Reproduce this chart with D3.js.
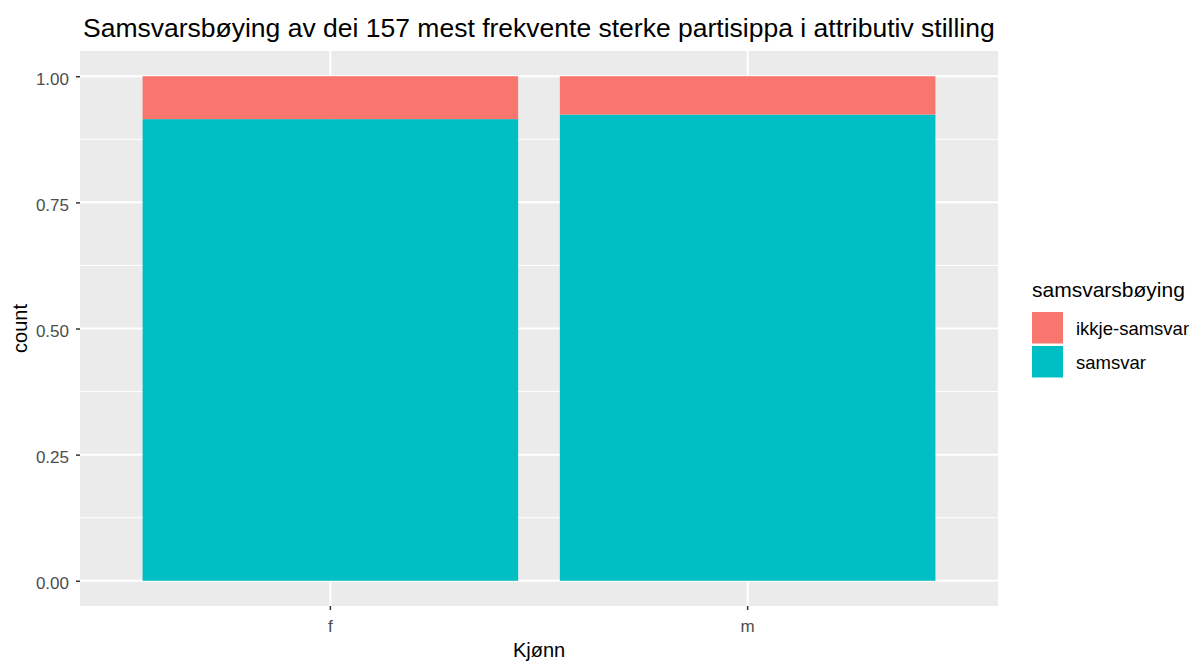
<!DOCTYPE html>
<html>
<head>
<meta charset="utf-8">
<script src="https://cdnjs.cloudflare.com/ajax/libs/d3/7.8.5/d3.min.js"></script>
<style>
  body { margin: 0; background: #fff; }
  text { font-family: "Liberation Sans", Arial, sans-serif; }
</style>
</head>
<body>
<div id="viz"></div>
<script>
// data
const genders = ["f", "m"];
const groups = ["ikkje-samsvar", "samsvar"];
const samsvarShare = [0.915, 0.924];   // share of "samsvar" per gender
const yTicks = [0, 0.25, 0.5, 0.75, 1];
const yMinor = [0.125, 0.375, 0.625, 0.875];
const groupColors = ["#F8766D", "#00BFC4"];

const width = 1194, height = 662;
const panel = {left: 80, right: 998, top: 51, bottom: 606};

let svg = d3.select("#viz")
  .append("svg")
    .attr("width", width)
    .attr("height", height);

// stacked rows: samsvar at bottom, ikkje-samsvar on top
let rows = genders.map((g, i) => ({kjonn: g, "samsvar": samsvarShare[i], "ikkje-samsvar": 1 - samsvarShare[i]}));
let stack = d3.stack().keys(["samsvar", "ikkje-samsvar"])(rows);

let xScale = d3.scaleBand()
  .domain(genders)
  .range([panel.left, panel.right])
  .paddingInner(0.1)
  .paddingOuter(0.15);

let yScale = d3.scaleLinear()
  .domain([-0.05, 1.05])
  .range([panel.bottom, panel.top]);

let colorScale = d3.scaleOrdinal().domain(groups).range(groupColors);

// panel background
svg.append("rect")
  .attr("x", panel.left).attr("y", panel.top)
  .attr("width", panel.right - panel.left)
  .attr("height", panel.bottom - panel.top)
  .attr("fill", "#EBEBEB");

// grid lines
svg.append("g").selectAll("line")
  .data(yMinor).join("line")
    .attr("x1", panel.left).attr("x2", panel.right)
    .attr("y1", d => yScale(d)).attr("y2", d => yScale(d))
    .attr("stroke", "#fff").attr("stroke-width", 1);
svg.append("g").selectAll("line")
  .data(yTicks).join("line")
    .attr("x1", panel.left).attr("x2", panel.right)
    .attr("y1", d => yScale(d)).attr("y2", d => yScale(d))
    .attr("stroke", "#fff").attr("stroke-width", 2);
svg.append("g").selectAll("line")
  .data(genders).join("line")
    .attr("x1", d => xScale(d) + xScale.bandwidth() / 2)
    .attr("x2", d => xScale(d) + xScale.bandwidth() / 2)
    .attr("y1", panel.top).attr("y2", panel.bottom)
    .attr("stroke", "#fff").attr("stroke-width", 2);

// bars
svg.append("g").selectAll("g")
  .data(stack).join("g")
    .attr("fill", d => colorScale(d.key))
  .selectAll("rect")
  .data(d => d).join("rect")
    .attr("x", d => xScale(d.data.kjonn))
    .attr("width", xScale.bandwidth())
    .attr("y", d => yScale(d[1]))
    .attr("height", d => yScale(d[0]) - yScale(d[1]));

// Y axis
let yAxisG = svg.append("g")
  .attr("transform", "translate(" + panel.left + ",0)")
  .call(d3.axisLeft(yScale).tickValues(yTicks).tickFormat(d3.format(".2f")).tickSize(4).tickPadding(7));
yAxisG.select(".domain").remove();
yAxisG.selectAll(".tick line").attr("stroke", "#333").attr("stroke-width", 1.5);
yAxisG.selectAll(".tick text").attr("fill", "#4D4D4D").attr("dy", "0.48em")
  .style("font-size", "17px").attr("font-family", null);

// X axis
let xAxisG = svg.append("g")
  .attr("transform", "translate(0," + panel.bottom + ")")
  .call(d3.axisBottom(xScale).tickSize(4).tickPadding(10));
xAxisG.select(".domain").remove();
xAxisG.selectAll(".tick line").attr("stroke", "#333").attr("stroke-width", 1.5);
xAxisG.selectAll(".tick text").attr("fill", "#4D4D4D").style("font-size", "17px").attr("font-family", null);

// axis titles
svg.append("text")
  .attr("x", (panel.left + panel.right) / 2).attr("y", 657)
  .attr("text-anchor", "middle")
  .style("font-size", "20px")
  .text("Kjønn");
svg.append("text")
  .attr("transform", "translate(27," + ((panel.top + panel.bottom) / 2) + ") rotate(-90)")
  .attr("text-anchor", "middle")
  .style("font-size", "20px")
  .text("count");

// title
svg.append("text")
  .attr("x", 83).attr("y", 37)
  .style("font-size", "26.5px")
  .text("Samsvarsbøying av dei 157 mest frekvente sterke partisippa i attributiv stilling");

// legend
let legend = svg.append("g").attr("transform", "translate(1032,0)");
legend.append("text")
  .attr("x", 0).attr("y", 297)
  .style("font-size", "21px")
  .text("samsvarsbøying");
let keys = legend.selectAll("g.key")
  .data(groups).join("g")
    .attr("class", "key")
    .attr("transform", (d, i) => "translate(0," + (312 + i * 34) + ")");
keys.append("rect")
  .attr("width", 31).attr("height", 31.5)
  .attr("fill", d => colorScale(d));
keys.append("text")
  .attr("x", 44).attr("y", 23)
  .style("font-size", "18.5px")
  .text(d => d);
</script>
</body>
</html>
